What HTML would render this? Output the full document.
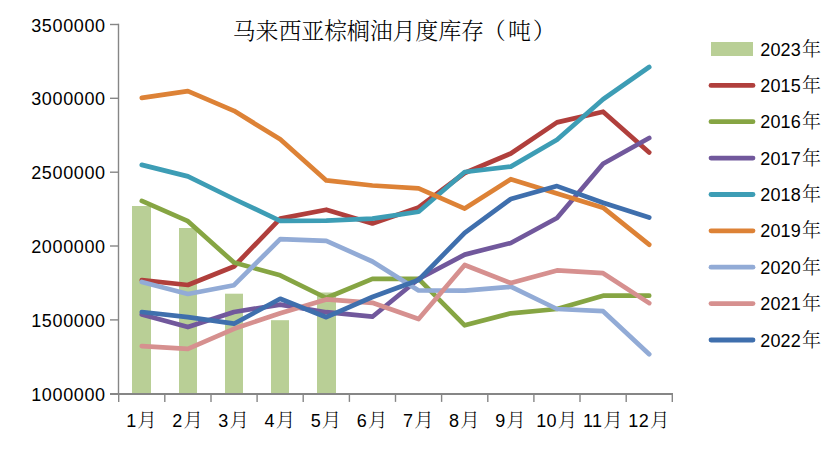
<!DOCTYPE html><html><head><meta charset="utf-8"><style>
html,body{margin:0;padding:0;background:#fff;}
body{width:834px;height:475px;overflow:hidden;position:relative;}
svg{position:absolute;left:0;top:0;}
.num{font-family:"Liberation Sans","Noto Serif CJK SC",sans-serif;font-size:18px;fill:#000;letter-spacing:0.4px;}
.cjk{font-family:"Noto Serif CJK SC",serif;font-weight:300;font-size:19.5px;letter-spacing:0;}
.ttl{font-family:"Liberation Serif","Noto Serif CJK SC",serif;font-size:23px;fill:#000;font-weight:300;text-spacing-trim:space-all;font-kerning:none;}
</style></head><body>
<svg width="834" height="475" viewBox="0 0 834 475">
<text class="ttl" x="232.7 255.5 278.4 301.2 324.0 346.8 369.7 392.5 415.3 438.2 461.0 482.7 508.0 532.7" y="38.8">马来西亚棕榈油月度库存（吨）</text>
<rect x="132" y="206.0" width="19" height="187.7" fill="#B9CF96"/>
<rect x="179" y="228.0" width="18" height="165.7" fill="#B9CF96"/>
<rect x="225" y="293.7" width="18" height="100.0" fill="#B9CF96"/>
<rect x="271" y="320.2" width="18" height="73.5" fill="#B9CF96"/>
<rect x="317" y="292.5" width="19" height="101.2" fill="#B9CF96"/>
<line x1="118.5" y1="23.8" x2="118.5" y2="393.7" stroke="#868686" stroke-width="1.4"/>
<line x1="110" y1="24.5" x2="118.7" y2="24.5" stroke="#868686" stroke-width="1.4"/>
<line x1="110" y1="98.3" x2="118.7" y2="98.3" stroke="#868686" stroke-width="1.4"/>
<line x1="110" y1="172.2" x2="118.7" y2="172.2" stroke="#868686" stroke-width="1.4"/>
<line x1="110" y1="246.0" x2="118.7" y2="246.0" stroke="#868686" stroke-width="1.4"/>
<line x1="110" y1="319.9" x2="118.7" y2="319.9" stroke="#868686" stroke-width="1.4"/>
<line x1="110" y1="393.7" x2="118.7" y2="393.7" stroke="#868686" stroke-width="1.4"/>
<line x1="110" y1="394.0" x2="673.0" y2="394.0" stroke="#868686" stroke-width="1.9"/>
<line x1="118.7" y1="393.7" x2="118.7" y2="401.9" stroke="#868686" stroke-width="1.4"/>
<line x1="164.8" y1="393.7" x2="164.8" y2="401.9" stroke="#868686" stroke-width="1.4"/>
<line x1="211.0" y1="393.7" x2="211.0" y2="401.9" stroke="#868686" stroke-width="1.4"/>
<line x1="257.1" y1="393.7" x2="257.1" y2="401.9" stroke="#868686" stroke-width="1.4"/>
<line x1="303.2" y1="393.7" x2="303.2" y2="401.9" stroke="#868686" stroke-width="1.4"/>
<line x1="349.4" y1="393.7" x2="349.4" y2="401.9" stroke="#868686" stroke-width="1.4"/>
<line x1="395.5" y1="393.7" x2="395.5" y2="401.9" stroke="#868686" stroke-width="1.4"/>
<line x1="441.6" y1="393.7" x2="441.6" y2="401.9" stroke="#868686" stroke-width="1.4"/>
<line x1="487.8" y1="393.7" x2="487.8" y2="401.9" stroke="#868686" stroke-width="1.4"/>
<line x1="533.9" y1="393.7" x2="533.9" y2="401.9" stroke="#868686" stroke-width="1.4"/>
<line x1="580.0" y1="393.7" x2="580.0" y2="401.9" stroke="#868686" stroke-width="1.4"/>
<line x1="626.2" y1="393.7" x2="626.2" y2="401.9" stroke="#868686" stroke-width="1.4"/>
<line x1="672.3" y1="393.7" x2="672.3" y2="401.9" stroke="#868686" stroke-width="1.4"/>
<text class="num" style="letter-spacing:0.65px" x="105.8" y="31.5" text-anchor="end">3500000</text>
<text class="num" style="letter-spacing:0.65px" x="105.8" y="105.3" text-anchor="end">3000000</text>
<text class="num" style="letter-spacing:0.65px" x="105.8" y="179.2" text-anchor="end">2500000</text>
<text class="num" style="letter-spacing:0.65px" x="105.8" y="253.0" text-anchor="end">2000000</text>
<text class="num" style="letter-spacing:0.65px" x="105.8" y="326.9" text-anchor="end">1500000</text>
<text class="num" style="letter-spacing:0.65px" x="105.8" y="400.7" text-anchor="end">1000000</text>
<text class="num" x="141.5" y="427" text-anchor="middle">1<tspan class="cjk" dx="0.8">月</tspan></text>
<text class="num" x="187.6" y="427" text-anchor="middle">2<tspan class="cjk" dx="0.8">月</tspan></text>
<text class="num" x="233.7" y="427" text-anchor="middle">3<tspan class="cjk" dx="0.8">月</tspan></text>
<text class="num" x="279.9" y="427" text-anchor="middle">4<tspan class="cjk" dx="0.8">月</tspan></text>
<text class="num" x="326.0" y="427" text-anchor="middle">5<tspan class="cjk" dx="0.8">月</tspan></text>
<text class="num" x="372.1" y="427" text-anchor="middle">6<tspan class="cjk" dx="0.8">月</tspan></text>
<text class="num" x="418.3" y="427" text-anchor="middle">7<tspan class="cjk" dx="0.8">月</tspan></text>
<text class="num" x="464.4" y="427" text-anchor="middle">8<tspan class="cjk" dx="0.8">月</tspan></text>
<text class="num" x="510.5" y="427" text-anchor="middle">9<tspan class="cjk" dx="0.8">月</tspan></text>
<text class="num" x="556.7" y="427" text-anchor="middle">10<tspan class="cjk" dx="0.8">月</tspan></text>
<text class="num" x="602.8" y="427" text-anchor="middle">11<tspan class="cjk" dx="0.8">月</tspan></text>
<text class="num" x="648.9" y="427" text-anchor="middle">12<tspan class="cjk" dx="0.8">月</tspan></text>
<polyline points="141.8,280.1 187.9,285.0 234.0,266.5 280.2,218.6 326.3,209.7 372.4,223.5 418.6,207.5 464.7,173.0 510.8,153.5 557.0,122.4 603.1,111.7 649.2,152.4" fill="none" stroke="#B03F3C" stroke-width="4.7" stroke-linejoin="round" stroke-linecap="round"/>
<polyline points="141.8,200.9 187.9,221.2 234.0,262.6 280.2,275.3 326.3,298.0 372.4,278.9 418.6,278.9 464.7,325.3 510.8,313.3 557.0,309.0 603.1,295.7 649.2,295.7" fill="none" stroke="#86A543" stroke-width="4.7" stroke-linejoin="round" stroke-linecap="round"/>
<polyline points="141.8,314.4 187.9,327.1 234.0,312.0 280.2,304.6 326.3,312.2 372.4,316.7 418.6,279.0 464.7,254.6 510.8,243.0 557.0,218.0 603.1,163.7 649.2,138.0" fill="none" stroke="#71589C" stroke-width="4.7" stroke-linejoin="round" stroke-linecap="round"/>
<polyline points="141.8,164.9 187.9,176.4 234.0,199.0 280.2,220.8 326.3,220.6 372.4,218.6 418.6,211.7 464.7,172.0 510.8,166.6 557.0,139.8 603.1,99.2 649.2,67.0" fill="none" stroke="#3D9DB5" stroke-width="4.7" stroke-linejoin="round" stroke-linecap="round"/>
<polyline points="141.8,97.9 187.9,91.1 234.0,110.8 280.2,139.3 326.3,180.4 372.4,185.5 418.6,188.3 464.7,208.6 510.8,179.2 557.0,193.5 603.1,207.7 649.2,244.7" fill="none" stroke="#DD8236" stroke-width="4.7" stroke-linejoin="round" stroke-linecap="round"/>
<polyline points="141.8,282.0 187.9,294.0 234.0,285.2 280.2,239.2 326.3,240.8 372.4,261.5 418.6,290.5 464.7,290.7 510.8,286.7 557.0,309.0 603.1,311.2 649.2,354.2" fill="none" stroke="#92ABD6" stroke-width="4.7" stroke-linejoin="round" stroke-linecap="round"/>
<polyline points="141.8,346.1 187.9,348.9 234.0,328.8 280.2,313.2 326.3,299.4 372.4,302.8 418.6,319.0 464.7,265.0 510.8,283.0 557.0,270.4 603.1,273.2 649.2,303.1" fill="none" stroke="#D6908F" stroke-width="4.7" stroke-linejoin="round" stroke-linecap="round"/>
<polyline points="141.8,312.0 187.9,317.1 234.0,323.7 280.2,298.8 326.3,317.2 372.4,297.0 418.6,280.0 464.7,232.8 510.8,199.0 557.0,186.1 603.1,202.7 649.2,217.5" fill="none" stroke="#3F6FAD" stroke-width="4.7" stroke-linejoin="round" stroke-linecap="round"/>
<rect x="711" y="42" width="42" height="14" fill="#B9CF96"/>
<text class="num" style="letter-spacing:0.2px" x="760.2" y="55.5">2023<tspan class="cjk" dx="1" style="font-size:19px">年</tspan></text>
<line x1="711" y1="85.4" x2="753" y2="85.4" stroke="#B03F3C" stroke-width="4.8" stroke-linecap="round"/>
<text class="num" style="letter-spacing:0.2px" x="760.2" y="91.9">2015<tspan class="cjk" dx="1" style="font-size:19px">年</tspan></text>
<line x1="711" y1="121.7" x2="753" y2="121.7" stroke="#86A543" stroke-width="4.8" stroke-linecap="round"/>
<text class="num" style="letter-spacing:0.2px" x="760.2" y="128.2">2016<tspan class="cjk" dx="1" style="font-size:19px">年</tspan></text>
<line x1="711" y1="158.1" x2="753" y2="158.1" stroke="#71589C" stroke-width="4.8" stroke-linecap="round"/>
<text class="num" style="letter-spacing:0.2px" x="760.2" y="164.6">2017<tspan class="cjk" dx="1" style="font-size:19px">年</tspan></text>
<line x1="711" y1="194.5" x2="753" y2="194.5" stroke="#3D9DB5" stroke-width="4.8" stroke-linecap="round"/>
<text class="num" style="letter-spacing:0.2px" x="760.2" y="201.0">2018<tspan class="cjk" dx="1" style="font-size:19px">年</tspan></text>
<line x1="711" y1="230.8" x2="753" y2="230.8" stroke="#DD8236" stroke-width="4.8" stroke-linecap="round"/>
<text class="num" style="letter-spacing:0.2px" x="760.2" y="237.3">2019<tspan class="cjk" dx="1" style="font-size:19px">年</tspan></text>
<line x1="711" y1="267.2" x2="753" y2="267.2" stroke="#92ABD6" stroke-width="4.8" stroke-linecap="round"/>
<text class="num" style="letter-spacing:0.2px" x="760.2" y="273.7">2020<tspan class="cjk" dx="1" style="font-size:19px">年</tspan></text>
<line x1="711" y1="303.6" x2="753" y2="303.6" stroke="#D6908F" stroke-width="4.8" stroke-linecap="round"/>
<text class="num" style="letter-spacing:0.2px" x="760.2" y="310.1">2021<tspan class="cjk" dx="1" style="font-size:19px">年</tspan></text>
<line x1="711" y1="340.0" x2="753" y2="340.0" stroke="#3F6FAD" stroke-width="4.8" stroke-linecap="round"/>
<text class="num" style="letter-spacing:0.2px" x="760.2" y="346.5">2022<tspan class="cjk" dx="1" style="font-size:19px">年</tspan></text>
</svg></body></html>
